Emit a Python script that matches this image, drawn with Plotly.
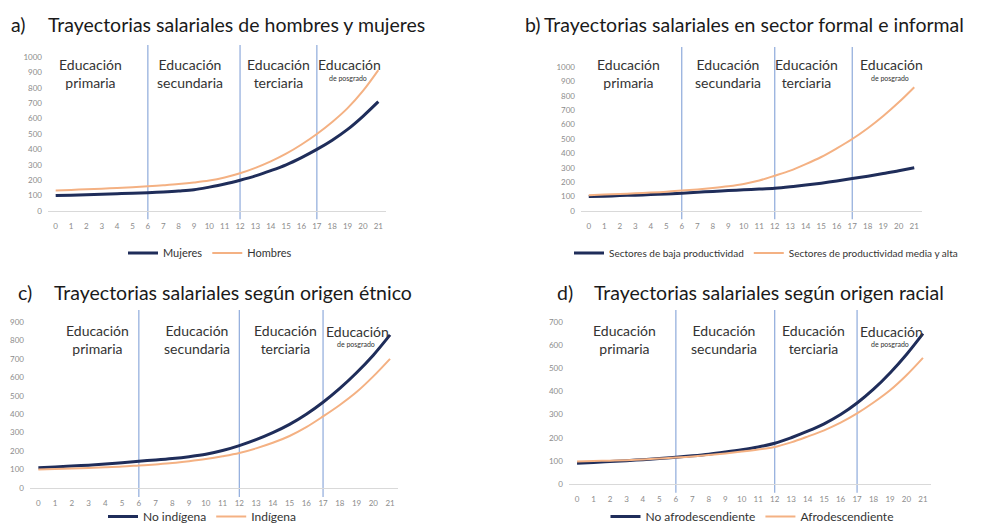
import plotly.graph_objects as go

W, H = 982, 531

# ---------------- data ----------------
anios = list(range(22))
etapas_limites = [6, 12, 17]

mujeres = [100, 103, 106, 109, 112, 115, 119, 124, 130, 138, 155, 175, 200, 228, 262, 300, 347, 400, 460, 530, 615, 710]
hombres = [133, 137, 141, 145, 149, 154, 160, 167, 175, 185, 198, 218, 245, 280, 322, 372, 432, 500, 578, 668, 780, 915]

baja_prod = [100, 103, 107, 110, 114, 118, 124, 130, 136, 142, 147, 152, 158, 168, 180, 193, 208, 225, 242, 260, 280, 300]
media_alta_prod = [110, 114, 118, 123, 128, 134, 142, 150, 160, 172, 188, 212, 245, 280, 325, 375, 435, 500, 575, 660, 755, 860]

no_indigena = [110, 114, 119, 124, 130, 137, 145, 152, 160, 170, 183, 203, 230, 262, 300, 345, 400, 465, 540, 625, 720, 830]
indigena = [100, 103, 106, 109, 112, 116, 122, 128, 135, 145, 157, 172, 190, 215, 245, 282, 330, 388, 450, 520, 605, 700]

no_afro = [90, 93, 97, 101, 105, 110, 116, 122, 129, 138, 148, 160, 176, 200, 228, 260, 300, 350, 410, 480, 560, 650]
afro = [97, 99, 101, 103, 106, 110, 114, 119, 125, 132, 140, 149, 160, 180, 205, 232, 265, 305, 352, 405, 470, 545]

letras = ["a)", "b)", "c)", "d)"]
titulos = [
    "Trayectorias salariales de hombres y mujeres",
    "Trayectorias salariales en sector formal e informal",
    "Trayectorias salariales según origen étnico",
    "Trayectorias salariales según origen racial",
]
series = [
    [("Mujeres", mujeres), ("Hombres", hombres)],
    [("Sectores de baja productividad", baja_prod), ("Sectores de productividad media y alta", media_alta_prod)],
    [("No indígena", no_indigena), ("Indígena", indigena)],
    [("No afrodescendiente", no_afro), ("Afrodescendiente", afro)],
]
y_tick_max = [1000, 1000, 900, 700]
etapas = ["Educación<br>primaria", "Educación<br>secundaria", "Educación<br>terciaria"]

# ---------------- layout geometry (pixels) ----------------
def px(x):
    return x / W

def py(y):
    return 1 - y / H

paneles = [
    dict(x0=48, x1=386, yb=211, yt=45, ymax=1078),
    dict(x0=581, x1=922, yb=211, yt=47, ymax=1139),
    dict(x0=30, x1=398.4, yb=488, yt=310, ymax=965),
    dict(x0=568.8, x1=931.2, yb=484, yt=310, ymax=752),
]
titulo_pos = [(9, 46, 24), (523, 542, 24), (16, 52, 292), (555, 592, 292)]
etapa_x = [
    [90, 190, 278, 349],
    [628, 728, 806, 891],
    [97, 197, 285, 357],
    [624, 724, 813, 891],
]
etapa_y = [73, 73, 339, 339]
# (x center px, y px, font size, anchor)
leyenda_pos = [(210, 253, 11, "middle"), (766, 253, 10, "middle"), (202, 531, 12, "bottom"), (752, 531, 12, "bottom")]

NAVY = "#1f2d5a"
ORANGE = "#f4b183"
VLINE = "#8eaadb"
FONT = "Lato, 'Open Sans', sans-serif"

fig = go.Figure()
annotations = []
shapes = []
layout_axes = {}

for i, p in enumerate(paneles):
    n = "" if i == 0 else str(i + 1)
    xa, ya = "x" + n, "y" + n
    leg = "legend" + n
    colors = [NAVY, ORANGE]
    widths = [3, 2]
    for j, (nombre, vals) in enumerate(series[i]):
        fig.add_trace(go.Scatter(
            x=anios, y=vals, mode="lines", name=nombre,
            line=dict(color=colors[j], width=widths[j], shape="spline", smoothing=1.0),
            xaxis=xa, yaxis=ya, legend=leg, hoverinfo="skip",
        ))
    layout_axes["xaxis" + n] = dict(
        domain=[px(p["x0"]), px(p["x1"])], anchor=ya, range=[-0.5, 21.5],
        tickmode="array", tickvals=anios, ticktext=[str(a) for a in anios],
        showgrid=False, zeroline=False, showline=True, linecolor="#d9d9d9", linewidth=1,
        ticks="", tickfont=dict(size=8, color="#8c8c8c", family=FONT), fixedrange=True,
        automargin=False, ticklabelstandoff=7,
    )
    layout_axes["yaxis" + n] = dict(
        domain=[py(p["yb"]), py(p["yt"])], anchor=xa, range=[0, p["ymax"]],
        tickmode="array", tickvals=list(range(0, y_tick_max[i] + 1, 100)),
        showgrid=False, zeroline=False, showline=False, ticks="",
        tickfont=dict(size=8, color="#8c8c8c", family=FONT), fixedrange=True,
        automargin=False, ticklabelstandoff=5,
    )
    for lim in etapas_limites:
        shapes.append(dict(type="line", xref=xa, yref=ya + " domain", x0=lim, x1=lim,
                           y0=-0.05, y1=1, layer="below", line=dict(color=VLINE, width=1.2)))
    lx, tx, ty = titulo_pos[i]
    annotations.append(dict(text=letras[i], x=px(lx), y=py(ty), xref="paper", yref="paper",
                            xanchor="left", yanchor="middle", showarrow=False,
                            font=dict(size=19.5, color="#1a1a1a", family=FONT)))
    annotations.append(dict(text=titulos[i], x=px(tx), y=py(ty), xref="paper", yref="paper",
                            xanchor="left", yanchor="middle", showarrow=False,
                            font=dict(size=19.5, color="#1a1a1a", family=FONT)))
    for k, et in enumerate(etapas):
        annotations.append(dict(text=et, x=px(etapa_x[i][k]), y=py(etapa_y[i]), xref="paper", yref="paper",
                                xanchor="center", yanchor="middle", showarrow=False,
                                font=dict(size=14, color="#333333", family=FONT)))
    annotations.append(dict(text="Educación", x=px(etapa_x[i][3]), y=py(etapa_y[i] - 8), xref="paper", yref="paper",
                            xanchor="center", yanchor="middle", showarrow=False,
                            font=dict(size=14, color="#333333", family=FONT)))
    annotations.append(dict(text="de posgrado", x=px(etapa_x[i][3] - 1), y=py(etapa_y[i] + 5), xref="paper", yref="paper",
                            xanchor="center", yanchor="middle", showarrow=False,
                            font=dict(size=7, color="#333333", family=FONT)))
    gx, gy, gs, ganchor = leyenda_pos[i]
    layout_axes[leg] = dict(
        x=px(gx), y=py(gy), xanchor="center", yanchor=ganchor, orientation="h",
        font=dict(size=gs, color="#333333", family=FONT), bgcolor="rgba(0,0,0,0)",
        itemwidth=30, tracegroupgap=0,
    )

fig.update_layout(
    width=W, height=H, autosize=False,
    margin=dict(l=0, r=0, t=0, b=0),
    paper_bgcolor="white", plot_bgcolor="white",
    showlegend=True, annotations=annotations, shapes=shapes,
    **layout_axes,
)

fig.write_html(
    "out.html",
    config={"displayModeBar": False},
    post_script="document.body.style.margin='0';document.body.style.padding='0';document.body.style.overflow='hidden';",
)
